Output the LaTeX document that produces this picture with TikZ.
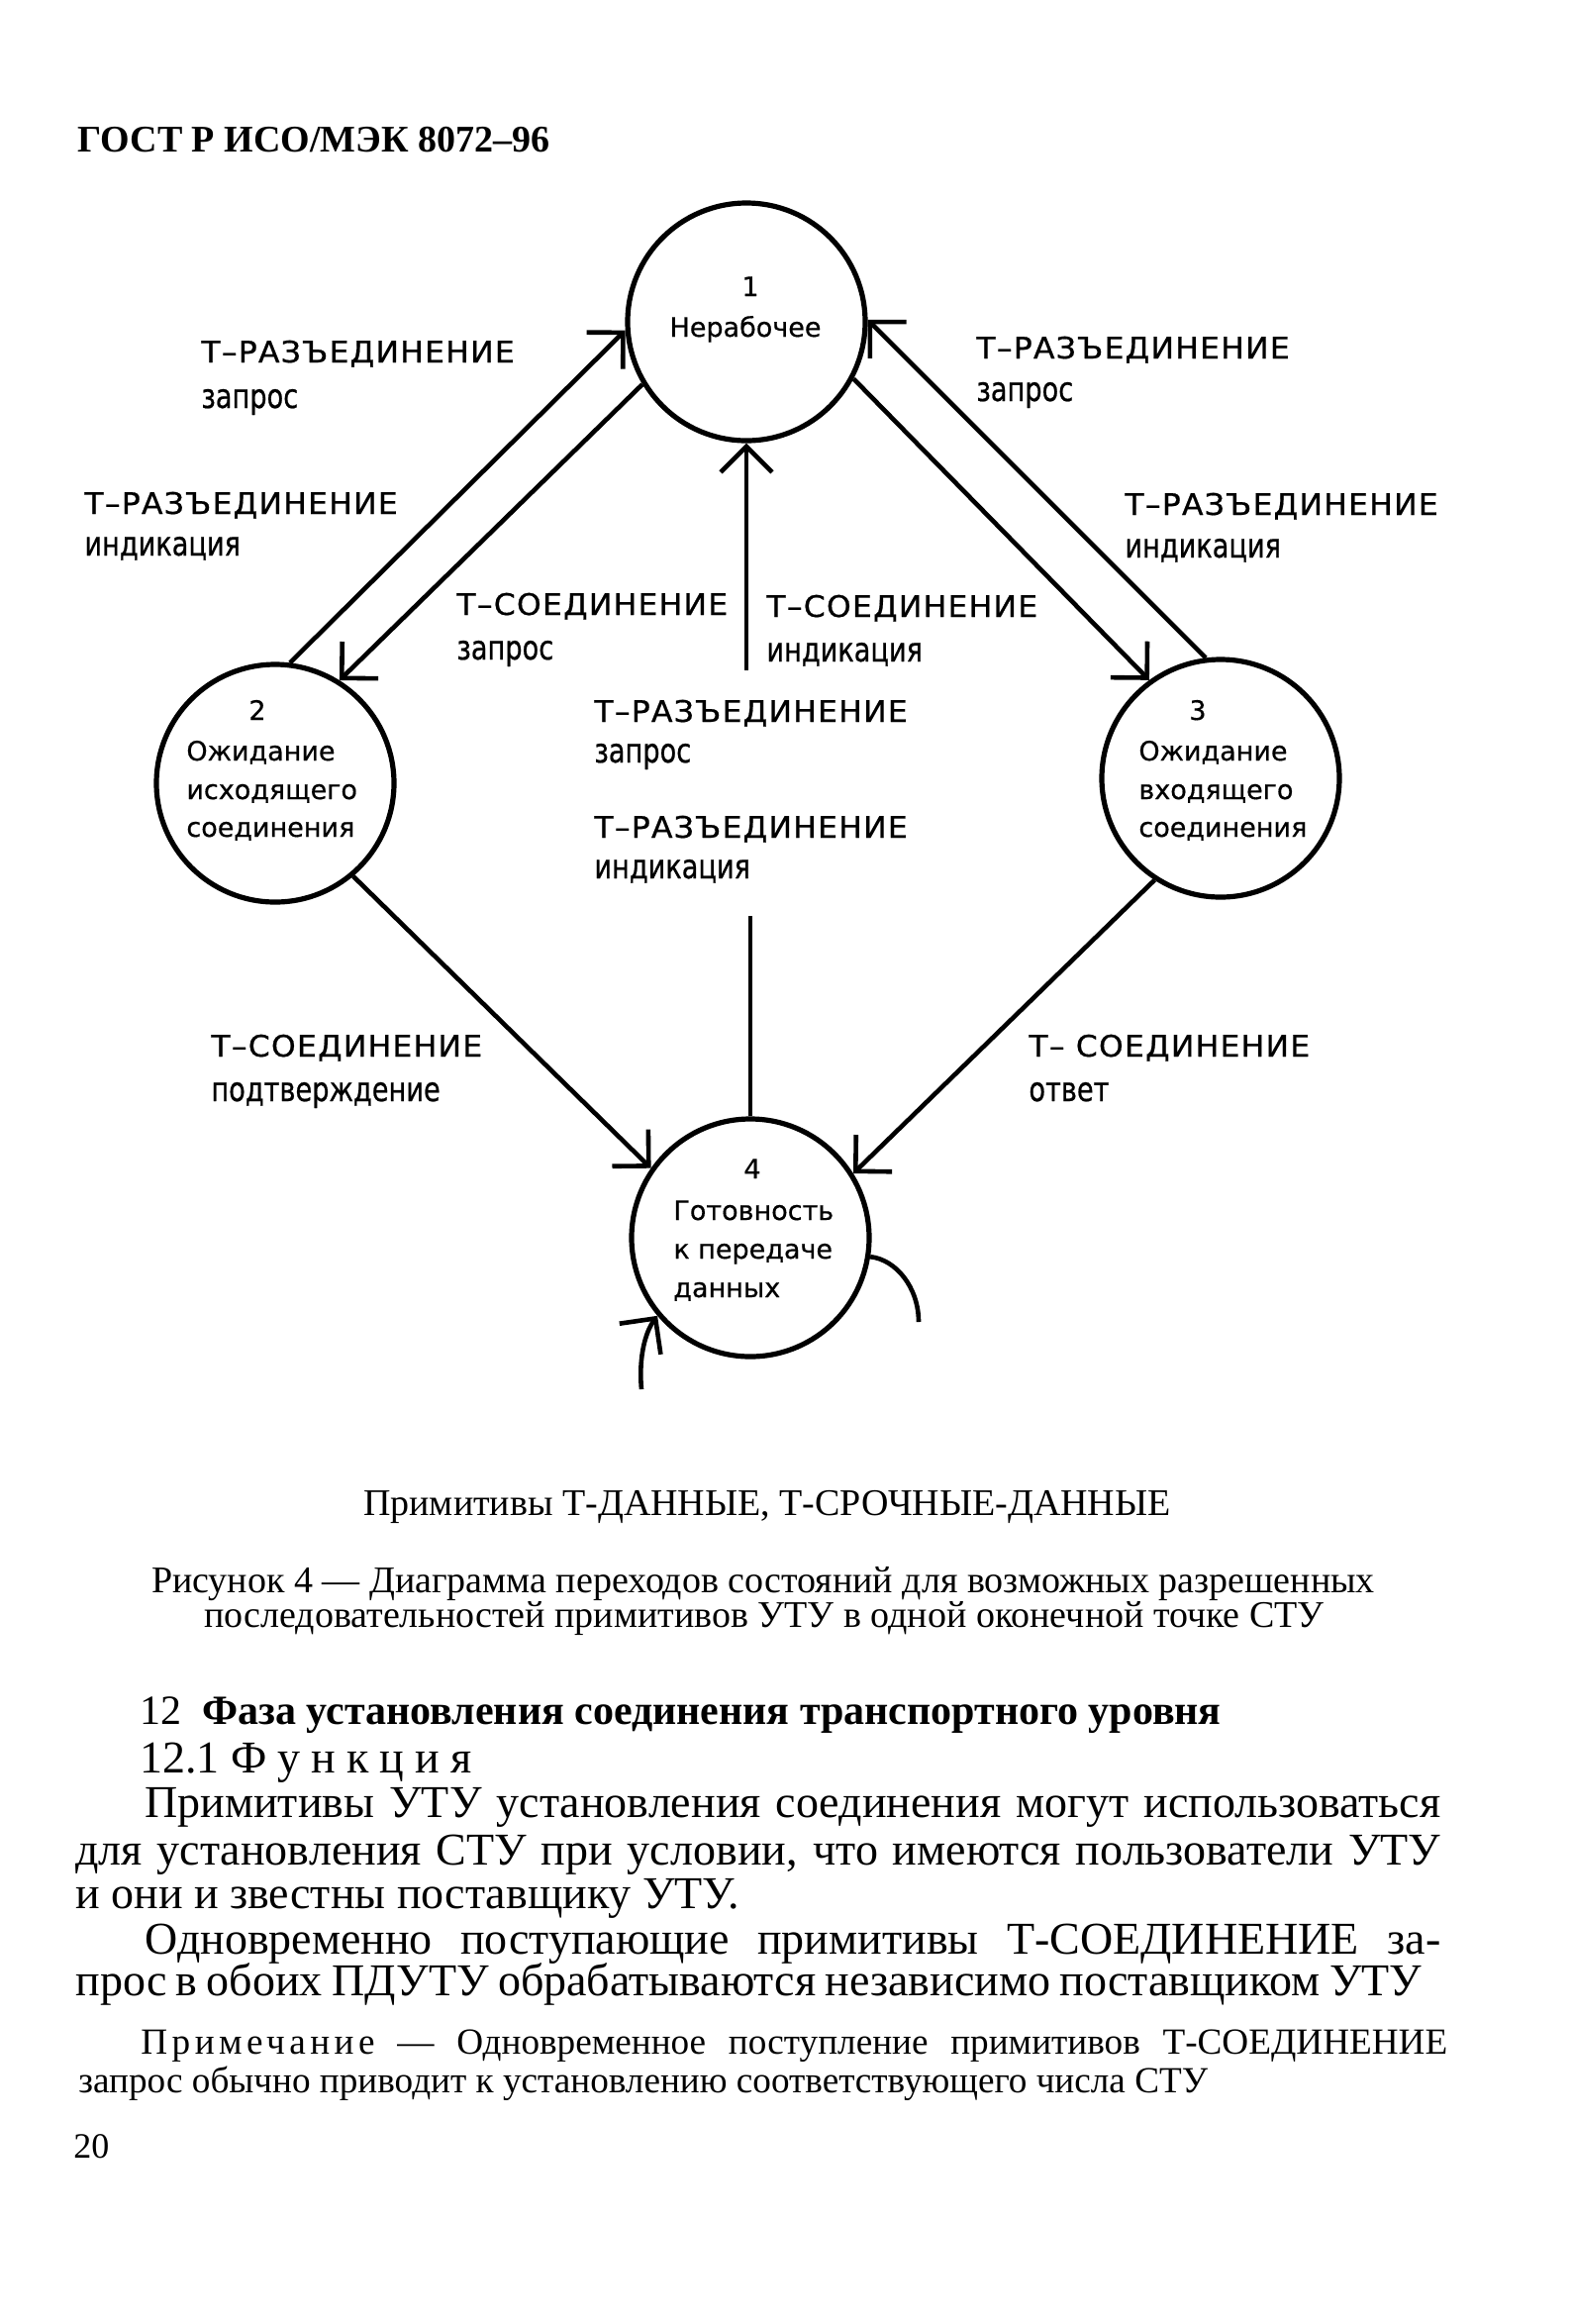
\documentclass[tikz,border=0pt]{standalone}
\usepackage{fontspec}
\setmainfont{Liberation Serif}
\newfontfamily\capsfont[FakeStretch=1.05,LetterSpace=4,FakeBold=0.6]{DejaVu Sans}
\newfontfamily\lowfont[FakeStretch=0.8,FakeBold=0.6]{DejaVu Sans}
\newfontfamily\circfont[FakeBold=0.5]{DejaVu Sans}
\usetikzlibrary{arrows.meta}
\begin{document}
\begin{tikzpicture}[x=0.5pt,y=-0.5pt,
  state/.style={circle,draw,line width=2.6pt,minimum size=120pt,inner sep=0pt},
  conn/.style={line width=2.3pt,-{Straight Barb[length=13pt,width=26pt]}},
  wire/.style={line width=2.3pt},
  capl/.style={anchor=base west,inner sep=0pt,font=\capsfont\fontsize{15}{18}\selectfont},
  lowl/.style={anchor=base west,inner sep=0pt,font=\lowfont\fontsize{17}{20}\selectfont},
  ctext/.style={anchor=base west,inner sep=0pt,font=\circfont\fontsize{13.5}{16}\selectfont},
  cnum/.style={anchor=base,inner sep=0pt,font=\circfont\fontsize{13.5}{16}\selectfont},
  body/.style={anchor=base west,inner sep=0pt,font=\fontsize{23}{26}\selectfont},
  note/.style={anchor=base west,inner sep=0pt,font=\fontsize{18.6}{22}\selectfont},
  capt/.style={anchor=base,inner sep=0pt,font=\fontsize{19}{22}\selectfont}]
\fill[white] (0,0) rectangle (1587,2347);
\useasboundingbox (0,0) rectangle (1587,2347);

% header
\node[anchor=base west,inner sep=0pt,font=\bfseries\fontsize{19}{22}\selectfont] (hdr) at (78,153) {ГОСТ Р ИСО/МЭК 8072–96};

% states
\node[state] (c1) at (754,325) {};
\node[state] (c2) at (278,791) {};
\node[state] (c3) at (1233,786) {};
\node[state] (c4) at (758,1250) {};

\node[cnum] (t1a) at (758,299) {1};
\node[cnum] (t1b) at (753,340) {Нерабочее};

\node[cnum] (t2a) at (260,727) {2};
\node[ctext] (t2b) at (188,768) {Ожидание};
\node[ctext] (t2c) at (188,807) {исходящего};
\node[ctext] (t2d) at (188,845) {соединения};

\node[cnum] (t3a) at (1210,727) {3};
\node[ctext] (t3b) at (1150,768) {Ожидание};
\node[ctext] (t3c) at (1150,807) {входящего};
\node[ctext] (t3d) at (1150,845) {соединения};

\node[cnum] (t4a) at (760,1190) {4};
\node[ctext] (t4b) at (680,1232) {Готовность};
\node[ctext] (t4c) at (680,1271) {к передаче};
\node[ctext] (t4d) at (680,1310) {данных};

% connectors
\draw[conn] (c2.83) -- (c1.184);
\draw[conn] (c1.211) -- (c2.58);
\draw[conn] (c3.97) -- (c1.1);
\draw[conn] (c1.332) -- (c3.126);
\coordinate (g1) at (754,677);
\coordinate (g2) at (758,925);
\draw[conn] (g1) -- (c1.south);
\draw[wire] (c4.north) -- (g2);
\draw[conn] (c2.310) -- (c4.145);
\draw[conn] (c3.237) -- (c4.32);
\coordinate (lr) at (928,1335);
\coordinate (ll) at (648,1403);
\draw[wire] (c4.351) .. controls (905,1272) and (928,1300) .. (lr);
\draw[conn] (ll) .. controls (645,1370) and (652,1345) .. (c4.220);

% labels
\node[capl] (l1a) at (203,366) {Т–РАЗЪЕДИНЕНИЕ};
\node[lowl] (l1b) at (203,412) {запрос};
\node[capl] (l2a) at (986,362) {Т–РАЗЪЕДИНЕНИЕ};
\node[lowl] (l2b) at (986,405) {запрос};
\node[capl] (l3a) at (85,519) {Т–РАЗЪЕДИНЕНИЕ};
\node[lowl] (l3b) at (85,561) {индикация};
\node[capl] (l4a) at (1136,520) {Т–РАЗЪЕДИНЕНИЕ};
\node[lowl] (l4b) at (1136,563) {индикация};
\node[capl] (l5a) at (461,621) {Т–СОЕДИНЕНИЕ};
\node[lowl] (l5b) at (461,666) {запрос};
\node[capl] (l6a) at (774,623) {Т–СОЕДИНЕНИЕ};
\node[lowl] (l6b) at (774,668) {индикация};
\node[capl] (l7a) at (600,729) {Т–РАЗЪЕДИНЕНИЕ};
\node[lowl] (l7b) at (600,770) {запрос};
\node[capl] (l8a) at (600,846) {Т–РАЗЪЕДИНЕНИЕ};
\node[lowl] (l8b) at (600,887) {индикация};
\node[capl] (l9a) at (213,1067) {Т–СОЕДИНЕНИЕ};
\node[lowl] (l9b) at (213,1112) {подтверждение};
\node[capl] (l10a) at (1039,1067) {Т– СОЕДИНЕНИЕ};
\node[lowl] (l10b) at (1039,1112) {ответ};

% captions
\node[capt] (cap1) at (775,1530) {Примитивы Т-ДАННЫЕ, Т-СРОЧНЫЕ-ДАННЫЕ};
\node[capt] (cap2) at (771,1608) {Рисунок 4 — Диаграмма переходов состояний для возможных разрешенных};
\node[capt] (cap3) at (772,1643) {последовательностей примитивов УТУ в одной оконечной точке СТУ};

% text
\node[anchor=base west,inner sep=0pt,font=\fontsize{21}{25}\selectfont] (h12) at (141,1741) {12\ \ \textbf{Фаза установления соединения транспортного уровня}};
\node[body] (h121) at (141,1790) {12.1 {\addfontfeature{LetterSpace=24}Функция}};
\node[body] (p1) at (146,1835) {\makebox[654.5pt][s]{Примитивы УТУ установления соединения могут использоваться}};
\node[body] (p2) at (76,1883) {\makebox[689.5pt][s]{для установления СТУ при условии, что имеются пользователи УТУ}};
\node[body] (p3) at (76,1927) {и они и звестны поставщику УТУ.};
\node[body] (p4) at (146,1973) {\makebox[654.5pt][s]{Одновременно поступающие примитивы Т-СОЕДИНЕНИЕ за-}};
\node[body] (p5) at (76,2015) {\makebox[680pt][s]{прос в обоих ПДУТУ обрабатываются независимо поставщиком УТУ}};
\node[note] (n1) at (142,2074) {\makebox[660pt][s]{{\addfontfeature{LetterSpace=12}Примечание} — Одновременное поступление примитивов Т-СОЕДИНЕНИЕ}};
\node[note] (n2) at (79,2113) {запрос обычно приводит к установлению соответствующего числа СТУ};
\node[anchor=base west,inner sep=0pt,font=\fontsize{18}{22}\selectfont] (pg) at (74,2179) {20};
\end{tikzpicture}
\end{document}
